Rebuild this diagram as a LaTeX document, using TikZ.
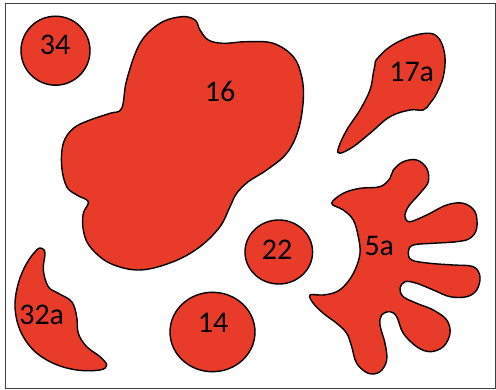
\documentclass[tikz,border=0pt]{standalone}
\usepackage{fontspec}
\setmainfont{Carlito}
\definecolor{blobred}{RGB}{233,59,41}
\tikzset{
  blob/.style={fill=blobred, draw=black, line width=1.4pt},
  lbl/.style={font=\fontsize{30}{36}\selectfont, text=black, inner sep=0pt},
}
\begin{document}
\begin{tikzpicture}[x=1pt,y=-1pt]
\useasboundingbox (0,0) rectangle (496,390);
\draw[draw=black!75, line width=1pt] (5.7,3.5) rectangle (495,388.5);
% 34
\draw[blob] (55.5,50.7) circle (34.5);
\node[lbl] (n34) at (55,45) {34};
% 22
\draw[blob] (278.8,252) ellipse (33.8 and 32);
\node[lbl] (n22) at (277,250) {22};
% 14
\draw[blob] (212.5,332) ellipse (42.5 and 39.7);
\node[lbl] (n14) at (213,323) {14};
% 16
\draw[blob] plot[smooth cycle, tension=0.6] coordinates {
(121.7,108.3) (126.7,80) (140,43.3) (160,23.3) (181.7,16.7) (195,20) (200,30)
(208.3,40) (223.3,43.3) (246.7,41.7) (273.3,43.3) (293.3,56.7) (301.7,76.7)
(303.3,100) (298.3,130) (286.7,153.3) (266.7,170) (248.3,181.7) (236.7,193.3)
(230,206.7) (220,226.7) (200,246.7) (173.3,261.7) (140,270) (110,263.3)
(90,246.7) (83.3,230) (83.3,213.3) (88.3,201.7) (76.7,195) (66.7,186.7)
(61.7,166.7) (63.3,143.3) (73.3,128.3) (90,120) (110,113.3)};
\node[lbl] (n16) at (220,91) {16};
% 17a
\draw[blob] plot[smooth cycle, tension=0.6] coordinates {
(376.7,59.3) (390,46.7) (410,36.7) (430,33.3) (440,40) (445,56.7) (443.3,76.7)
(436.7,93.3) (430,103.3) (423.3,110) (410,110) (390,116.7) (370,133.3)
(353.3,146.7) (340,153.3) (338.3,148.3) (346.7,130) (360,110) (370,90)
(373.3,73.3) (375,65)};
\node[lbl] (n17a) at (411.7,71.7) {17a};
% 32a
\draw[blob] plot[smooth cycle, tension=0.6] coordinates {
(41.7,248.3) (36.7,250) (26.7,263.3) (18.3,283.3) (15,306.7) (20,330)
(33.3,350) (53.3,363.3) (76.7,370) (100,370) (106.7,365) (100,356.7)
(86.7,346.7) (78.3,333.3) (76.7,316.7) (71.7,301.7) (58.3,293.3) (48.3,286.7)
(43.3,270) (45,253.3)};
\node[lbl] (n32a) at (41.7,315) {32a};
% 5a
\draw[blob] plot[smooth cycle, tension=0.6] coordinates {
(331.7,203.3) (343.3,193.3) (360,188.3) (380,186.7) (390,178.3) (393.3,170)
(403.3,161.7) (416.7,160) (426.7,168.3) (428.3,181.7) (420,193.3) (408.3,206.7)
(405,216.7) (410,221.7) (426.7,215) (446.7,205) (463.3,203.3) (475,211.7)
(476.7,228.3) (470,238.3) (456.7,241.7) (433.3,243.3) (413.3,245) (408.3,251.7)
(411.7,260) (430,263.3) (453.3,265) (473.3,266.7) (480,276.7) (476.7,290)
(466.7,296.7) (450,296.7) (433.3,290) (416.7,283.3) (405,281.7) (400,288.3)
(403.3,296.7) (416.7,303.3) (433.3,310) (446.7,320) (450,333.3) (443.3,346.7)
(430,351.7) (416.7,346.7) (403.3,333.3) (396.7,316.7) (390,311.7) (381.7,315)
(380,325) (385,343.3) (386.7,360) (380,371.7) (368.3,373.3) (356.7,363.3)
(351.7,346.7) (346.7,333.3) (336.7,323.3) (323.3,313.3) (313.3,303.3) (310,295)
(323.3,295) (336.7,291.7) (346.7,283.3) (355,270) (360,253.3) (358.3,236.7)
(353.3,220) (343.3,210)};
\node[lbl] (n5a) at (379.3,245.7) {5a};
\end{tikzpicture}
\end{document}
